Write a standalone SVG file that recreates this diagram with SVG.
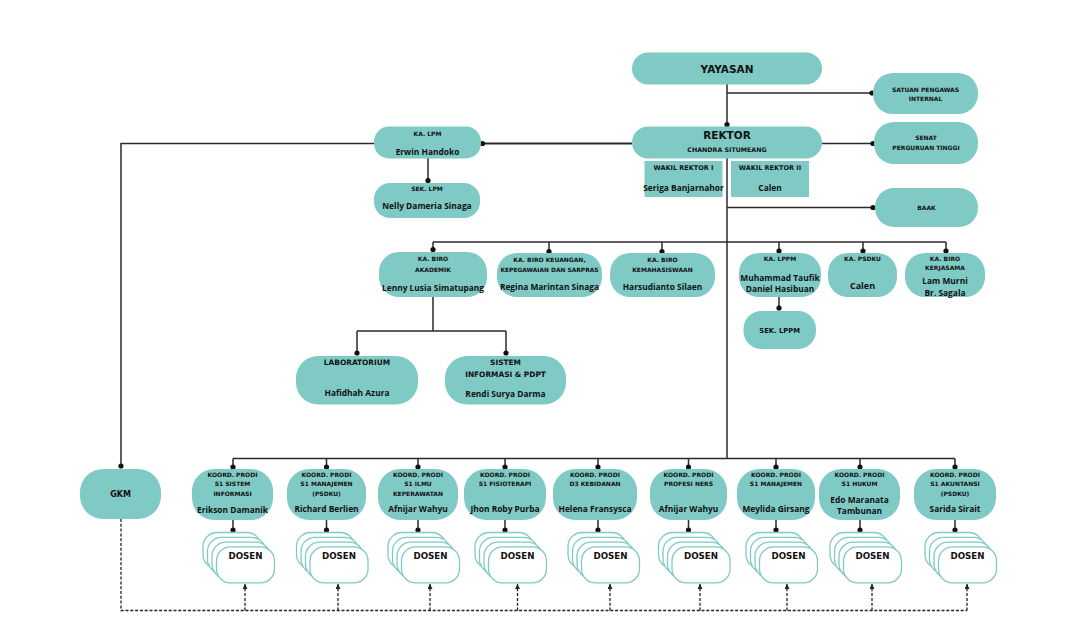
<svg xmlns="http://www.w3.org/2000/svg" xmlns:xlink="http://www.w3.org/1999/xlink" width="1091" height="634" viewBox="0 0 1091 634">
<style>
.box{fill:#7fcac4}
.sq{fill:#7fcac4}
.ln{stroke:#2b2b2b;stroke-width:1.5;fill:none}
.dash{stroke:#222;stroke-width:1.3;stroke-dasharray:3 1.8;fill:none}
.dot{fill:#111}
.dos{fill:#fff;stroke:#7fcac4;stroke-width:1.3}
text{text-anchor:middle;fill:#111;font-weight:bold}
.cap{font-family:"DejaVu Sans","Liberation Sans",sans-serif;font-size:6px}
.nm{font-family:"Open Sans","Liberation Sans",sans-serif;font-size:8.4px}
.big{font-family:"DejaVu Sans","Liberation Sans",sans-serif;font-size:10.5px}
.dtx{font-family:"DejaVu Sans","Liberation Sans",sans-serif;font-size:8.7px}
</style>
<defs>
<marker id="arr" markerWidth="5" markerHeight="5" refX="5" refY="2.5" orient="auto" markerUnits="userSpaceOnUse">
<path d="M0,0 L5,2.5 L0,5 z" fill="#222"/>
</marker>
<g id="stack">
<rect class="dos" x="-30" y="532.5" width="58" height="36" rx="14"/>
<rect class="dos" x="-25.5" y="537.3" width="58" height="36" rx="14"/>
<rect class="dos" x="-21" y="542.1" width="58" height="36" rx="14"/>
<rect class="dos" x="-16.5" y="546.9" width="58" height="36" rx="14"/>
</g>
</defs>
<rect width="1091" height="634" fill="#fff"/>

<g id="connectors">
<path class="ln" d="M727,84 V125"/>
<path class="ln" d="M727,93 H872"/>
<path class="ln" d="M822,143.5 H873"/>
<path class="ln" d="M632,143.5 H482" style="stroke-width:2"/>
<path class="ln" d="M374,143.5 H121 V467"/>
<path class="ln" d="M428,158 V181"/>
<path class="ln" d="M727,158 V458.5"/>
<path class="ln" d="M727,207.5 H873"/>
<path class="ln" d="M433,242 H946"/>
<path class="ln" d="M433,242 V250 M549,242 V252 M662,242 V252 M779,242 V251 M863,242 V251 M946,242 V251"/>
<path class="ln" d="M433,297 V331 M357,331 H506 M357,331 V353 M506,331 V353"/>
<path class="ln" d="M779,297 V308"/>
<path class="ln" d="M233,458.5 H955"/>
<path class="ln" d="M233,458.5 V467 M326.5,458.5 V467 M418,458.5 V467 M505,458.5 V467 M598,458.5 V467 M688.5,458.5 V467 M776,458.5 V467 M860,458.5 V467 M955,458.5 V467"/>
<path class="ln" d="M233,520 V530 M326.5,520 V530 M418,520 V530 M505,520 V530 M598,520 V530 M688.5,520 V530 M776,520 V530 M860,520 V530 M955,520 V530"/>
<g>
<circle class="dot" cx="727" cy="124.5" r="2.6"/>
<circle class="dot" cx="872" cy="93" r="2.6"/>
<circle class="dot" cx="873" cy="143.5" r="2.6"/>
<circle class="dot" cx="482.5" cy="143.5" r="2.6"/>
<circle class="dot" cx="121" cy="466" r="2.6"/>
<circle class="dot" cx="428" cy="180.5" r="2.6"/>
<circle class="dot" cx="873" cy="207.5" r="2.6"/>
<circle class="dot" cx="433" cy="249.5" r="2.6"/>
<circle class="dot" cx="549" cy="251.5" r="2.6"/>
<circle class="dot" cx="662" cy="251.5" r="2.6"/>
<circle class="dot" cx="779" cy="251" r="2.6"/>
<circle class="dot" cx="863" cy="251" r="2.6"/>
<circle class="dot" cx="946" cy="251" r="2.6"/>
<circle class="dot" cx="357" cy="353" r="2.6"/>
<circle class="dot" cx="506" cy="353" r="2.6"/>
<circle class="dot" cx="779" cy="308" r="2.6"/>
<circle class="dot" cx="233" cy="467" r="2.6"/>
<circle class="dot" cx="326.5" cy="467" r="2.6"/>
<circle class="dot" cx="418" cy="467" r="2.6"/>
<circle class="dot" cx="505" cy="467" r="2.6"/>
<circle class="dot" cx="598" cy="467" r="2.6"/>
<circle class="dot" cx="688.5" cy="467" r="2.6"/>
<circle class="dot" cx="776" cy="467" r="2.6"/>
<circle class="dot" cx="860" cy="467" r="2.6"/>
<circle class="dot" cx="955" cy="467" r="2.6"/>
<circle class="dot" cx="233" cy="530" r="2.6"/>
<circle class="dot" cx="326.5" cy="530" r="2.6"/>
<circle class="dot" cx="418" cy="530" r="2.6"/>
<circle class="dot" cx="505" cy="530" r="2.6"/>
<circle class="dot" cx="598" cy="530" r="2.6"/>
<circle class="dot" cx="688.5" cy="530" r="2.6"/>
<circle class="dot" cx="776" cy="530" r="2.6"/>
<circle class="dot" cx="860" cy="530" r="2.6"/>
<circle class="dot" cx="955" cy="530" r="2.6"/>
</g>
<path class="dash" d="M121,519 V610.5 H967"/>
<path class="dash" d="M245,610.5 V584" marker-end="url(#arr)"/>
<path class="dash" d="M338,610.5 V584" marker-end="url(#arr)"/>
<path class="dash" d="M430,610.5 V584" marker-end="url(#arr)"/>
<path class="dash" d="M517.5,610.5 V584" marker-end="url(#arr)"/>
<path class="dash" d="M610,610.5 V584" marker-end="url(#arr)"/>
<path class="dash" d="M700,610.5 V584" marker-end="url(#arr)"/>
<path class="dash" d="M787,610.5 V584" marker-end="url(#arr)"/>
<path class="dash" d="M872,610.5 V584" marker-end="url(#arr)"/>
<path class="dash" d="M967,610.5 V584" marker-end="url(#arr)"/>
</g>

<g id="yayasan"><rect class="box" x="632" y="52.5" width="190" height="32" rx="16"/><text class="big" x="727" y="72.5">YAYASAN</text></g>
<g id="spi"><rect class="box" x="873" y="73" width="105" height="41" rx="20"/><text class="cap" x="925.5" y="92.3">SATUAN PENGAWAS</text><text class="cap" x="925.5" y="101">INTERNAL</text></g>
<g id="rektor"><rect class="box" x="632" y="126.5" width="190" height="32" rx="16"/><text class="big" x="727" y="139">REKTOR</text><text class="cap" style="font-size:6.3px" x="727" y="151.7">CHANDRA SITUMEANG</text></g>
<g id="senat"><rect class="box" x="874" y="122" width="104" height="42" rx="20"/><text class="cap" x="926" y="140">SENAT</text><text class="cap" x="926" y="149.7">PERGURUAN TINGGI</text></g>
<g id="wr1"><rect class="sq" x="644.5" y="161" width="78" height="36"/><text class="cap" style="font-size:6.5px" x="683.5" y="170.3">WAKIL REKTOR I</text><text class="nm" x="683.5" y="191">Seriga Banjarnahor</text></g>
<g id="wr2"><rect class="sq" x="731" y="161" width="78" height="36"/><text class="cap" style="font-size:6.5px" x="770" y="170.3">WAKIL REKTOR II</text><text class="nm" x="770" y="191">Calen</text></g>
<g id="baak"><rect class="box" x="875" y="188" width="103" height="39" rx="19"/><text class="cap" x="926.5" y="209.7">BAAK</text></g>
<g id="lpm"><rect class="box" x="374" y="126.5" width="107" height="32" rx="15"/><text class="cap" x="427.5" y="135.7">KA. LPM</text><text class="nm" x="427.5" y="155">Erwin Handoko</text></g>
<g id="sek-lpm"><rect class="box" x="374" y="183" width="106" height="35" rx="16"/><text class="cap" x="427" y="191.3">SEK. LPM</text><text class="nm" x="427" y="209">Nelly Dameria Sinaga</text></g>

<g id="biro-akademik"><rect class="box" x="379" y="252" width="108" height="45" rx="20"/><text class="cap" x="433" y="261.3">KA. BIRO</text><text class="cap" x="433" y="271.7">AKADEMIK</text><text class="nm" x="433" y="290.5">Lenny Lusia Simatupang</text></g>
<g id="biro-keuangan"><rect class="box" x="497" y="253" width="105" height="44" rx="20"/><text class="cap" x="549.5" y="262.3">KA. BIRO KEUANGAN,</text><text class="cap" style="font-size:5.9px" x="549.5" y="272">KEPEGAWAIAN DAN SARPRAS</text><text class="nm" x="549.5" y="290">Regina Marintan Sinaga</text></g>
<g id="biro-kemahasiswaan"><rect class="box" x="610" y="253" width="105" height="44" rx="20"/><text class="cap" x="662.5" y="262.3">KA. BIRO</text><text class="cap" x="662.5" y="272">KEMAHASISWAAN</text><text class="nm" x="662.5" y="290">Harsudianto Silaen</text></g>
<g id="lppm"><rect class="box" x="739" y="253" width="82" height="44" rx="20"/><text class="cap" x="780" y="261">KA. LPPM</text><text class="nm" x="780" y="280.7">Muhammad Taufik</text><text class="nm" x="780" y="291.7">Daniel Hasibuan</text></g>
<g id="psdku"><rect class="box" x="828" y="253" width="69" height="44" rx="20"/><text class="cap" x="862.5" y="261">KA. PSDKU</text><text class="nm" style="font-size:9px" x="862.5" y="289">Calen</text></g>
<g id="kerjasama"><rect class="box" x="905" y="253" width="80" height="44" rx="20"/><text class="cap" x="945" y="261">KA. BIRO</text><text class="cap" x="945" y="270.3">KERJASAMA</text><text class="nm" x="945" y="284">Lam Murni</text><text class="nm" x="945" y="295.5">Br. Sagala</text></g>
<g id="sek-lppm"><rect class="box" x="743.5" y="311" width="72.5" height="38" rx="18"/><text class="cap" style="font-size:6.8px" x="779.7" y="333">SEK. LPPM</text></g>
<g id="laboratorium"><rect class="box" x="296" y="356" width="122" height="48.5" rx="22"/><text class="cap" style="font-size:7.4px" x="357" y="365">LABORATORIUM</text><text class="nm" x="357" y="395.5">Hafidhah Azura</text></g>
<g id="sistem-informasi"><rect class="box" x="445" y="356" width="121" height="48.5" rx="22"/><text class="cap" style="font-size:7.4px" x="505.5" y="364.5">SISTEM</text><text class="cap" style="font-size:7.4px" x="505.5" y="376.7">INFORMASI &amp; PDPT</text><text class="nm" x="505.5" y="397">Rendi Surya Darma</text></g>

<g id="gkm"><rect class="box" x="80" y="469" width="81" height="50" rx="23"/><text class="cap" style="font-size:8px" x="120.5" y="497.3">GKM</text></g>

<g id="prodi-si"><rect class="box" x="192" y="469" width="81" height="51" rx="22"/><text class="cap" x="232.5" y="477">KOORD. PRODI</text><text class="cap" x="232.5" y="486.3">S1 SISTEM</text><text class="cap" x="232.5" y="495.7">INFORMASI</text><text class="nm" x="232.5" y="512.5">Erikson Damanik</text><use xlink:href="#stack" x="233"/><text class="dtx" x="245.5" y="558.5">DOSEN</text></g>
<g id="prodi-mnj-psdku"><rect class="box" x="287" y="469" width="79" height="51" rx="22"/><text class="cap" x="326.5" y="477">KOORD. PRODI</text><text class="cap" x="326.5" y="486.3">S1 MANAJEMEN</text><text class="cap" x="326.5" y="495.7">(PSDKU)</text><text class="nm" x="326.5" y="512">Richard Berlien</text><use xlink:href="#stack" x="326.5"/><text class="dtx" x="339" y="558.5">DOSEN</text></g>
<g id="prodi-kep"><rect class="box" x="378" y="469" width="80" height="51" rx="22"/><text class="cap" x="418" y="477">KOORD. PRODI</text><text class="cap" x="418" y="486.3">S1 ILMU</text><text class="cap" x="418" y="495.7">KEPERAWATAN</text><text class="nm" x="418" y="512">Afnijar Wahyu</text><use xlink:href="#stack" x="418"/><text class="dtx" x="430.5" y="558.5">DOSEN</text></g>
<g id="prodi-fis"><rect class="box" x="464" y="469" width="82" height="51" rx="22"/><text class="cap" x="505" y="477">KOORD. PRODI</text><text class="cap" x="505" y="486.3">S1 FISIOTERAPI</text><text class="nm" x="505" y="511.5">Jhon Roby Purba</text><use xlink:href="#stack" x="505"/><text class="dtx" x="517.5" y="558.5">DOSEN</text></g>
<g id="prodi-keb"><rect class="box" x="553" y="469" width="84" height="51" rx="22"/><text class="cap" x="595" y="477">KOORD. PRODI</text><text class="cap" x="595" y="486.3">D3 KEBIDANAN</text><text class="nm" x="595" y="512">Helena Fransysca</text><use xlink:href="#stack" x="598"/><text class="dtx" x="610.5" y="558.5">DOSEN</text></g>
<g id="prodi-ners"><rect class="box" x="650" y="469" width="77" height="51" rx="22"/><text class="cap" x="688.5" y="477">KOORD. PRODI</text><text class="cap" x="688.5" y="486.3">PROFESI NERS</text><text class="nm" x="688.5" y="512">Afnijar Wahyu</text><use xlink:href="#stack" x="688.5"/><text class="dtx" x="701" y="558.5">DOSEN</text></g>
<g id="prodi-mnj"><rect class="box" x="737" y="469" width="78" height="51" rx="22"/><text class="cap" x="776" y="477">KOORD. PRODI</text><text class="cap" x="776" y="486.3">S1 MANAJEMEN</text><text class="nm" x="776" y="512">Meylida Girsang</text><use xlink:href="#stack" x="776"/><text class="dtx" x="788.5" y="558.5">DOSEN</text></g>
<g id="prodi-hukum"><rect class="box" x="819" y="469" width="81" height="51" rx="22"/><text class="cap" x="859.5" y="477">KOORD. PRODI</text><text class="cap" x="859.5" y="486.3">S1 HUKUM</text><text class="nm" x="859.5" y="503.3">Edo Maranata</text><text class="nm" x="859.5" y="514">Tambunan</text><use xlink:href="#stack" x="860"/><text class="dtx" x="872.5" y="558.5">DOSEN</text></g>
<g id="prodi-akt"><rect class="box" x="914" y="469" width="82" height="51" rx="22"/><text class="cap" x="955" y="477">KOORD. PRODI</text><text class="cap" x="955" y="486.3">S1 AKUNTANSI</text><text class="cap" x="955" y="495.7">(PSDKU)</text><text class="nm" x="955" y="511.5">Sarida Sirait</text><use xlink:href="#stack" x="955"/><text class="dtx" x="967.5" y="558.5">DOSEN</text></g>
</svg>
